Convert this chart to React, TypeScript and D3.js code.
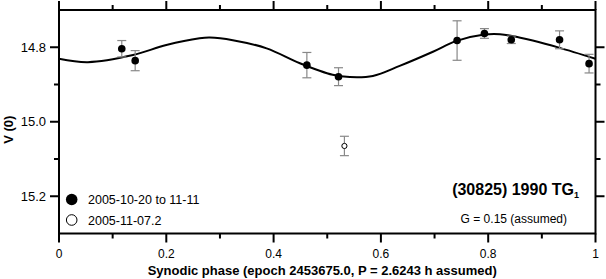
import React, { useEffect, useRef } from 'react';
import * as d3 from 'd3';

// main session points: phase, reduced mag, error
const phases = [0.117, 0.142, 0.462, 0.521, 0.742, 0.793, 0.843, 0.933, 0.988];
const mags = [14.804, 14.836, 14.848, 14.879, 14.782, 14.763, 14.780, 14.780, 14.844];
const errs = [0.022, 0.027, 0.034, 0.024, 0.053, 0.013, 0.010, 0.024, 0.025];

// second session (open symbol)
const phases2 = [0.532];
const mags2 = [15.065];
const errs2 = [0.026];

// fitted curve
const curvePhase = [0, 0.054, 0.138, 0.2, 0.262, 0.281, 0.324, 0.387, 0.449, 0.51, 0.542, 0.585, 0.635, 0.697, 0.741, 0.793, 0.822, 0.842, 0.883, 0.932, 1.0];
const curveMag = [14.831, 14.840, 14.821, 14.794, 14.776, 14.774, 14.781, 14.803, 14.843, 14.874, 14.880, 14.877, 14.850, 14.812, 14.783, 14.766, 14.765, 14.769, 14.782, 14.801, 14.831];

const xMajor = [0, 0.2, 0.4, 0.6, 0.8, 1];
const xLabels = ['0', '0.2', '0.4', '0.6', '0.8', '1'];
const yMajor = [14.8, 15.0, 15.2];
const yLabels = ['14.8', '15.0', '15.2'];

const legendLabels = ['2005-10-20 to 11-11', '2005-11-07.2'];

export default function App() {
  const ref = useRef<SVGSVGElement>(null);

  useEffect(() => {
    const W = 606, H = 279;
    const left = 59, right = 595.5, top = 10, bottom = 233.5;
    const font = 'Liberation Sans, Arial, Helvetica, sans-serif';

    const svg = d3.select(ref.current);
    svg.selectAll('*').remove();
    svg.attr('width', W).attr('height', H);

    const x = d3.scaleLinear().domain([0, 1]).range([left, right]);
    const y = d3.scaleLinear().domain([14.7, 15.3]).range([top, bottom]);

    const xMinor = d3.range(0.1, 1, 0.2);
    const yMinor = [14.9, 15.1];

    // frame
    svg.append('rect')
      .attr('x', left).attr('y', top)
      .attr('width', right - left).attr('height', bottom - top)
      .attr('fill', 'none').attr('stroke', '#000').attr('stroke-width', 2);

    const bigT = 9, smallT = 5;
    const g = svg.append('g').attr('stroke', '#000').attr('stroke-width', 2);
    xMajor.forEach(v => {
      g.append('line').attr('x1', x(v)).attr('x2', x(v)).attr('y1', bottom).attr('y2', bottom + bigT);
      g.append('line').attr('x1', x(v)).attr('x2', x(v)).attr('y1', top).attr('y2', top - bigT);
    });
    xMinor.forEach(v => {
      g.append('line').attr('x1', x(v)).attr('x2', x(v)).attr('y1', bottom).attr('y2', bottom + smallT);
      g.append('line').attr('x1', x(v)).attr('x2', x(v)).attr('y1', top).attr('y2', top - smallT);
    });
    yMajor.forEach(v => {
      g.append('line').attr('x1', left).attr('x2', left - bigT).attr('y1', y(v)).attr('y2', y(v));
      g.append('line').attr('x1', right).attr('x2', right + bigT).attr('y1', y(v)).attr('y2', y(v));
    });
    yMinor.forEach(v => {
      g.append('line').attr('x1', left).attr('x2', left - smallT).attr('y1', y(v)).attr('y2', y(v));
      g.append('line').attr('x1', right).attr('x2', right + smallT).attr('y1', y(v)).attr('y2', y(v));
    });

    // tick labels
    svg.selectAll('.xl').data(xMajor).enter().append('text')
      .attr('x', d => x(d)).attr('y', 258)
      .attr('text-anchor', 'middle').attr('font-family', font).attr('font-size', 12)
      .text((d, i) => xLabels[i]);
    svg.selectAll('.yl').data(yMajor).enter().append('text')
      .attr('x', 46).attr('y', d => y(d) + 4.5)
      .attr('text-anchor', 'end').attr('font-family', font).attr('font-size', 13)
      .text((d, i) => yLabels[i]);

    // axis titles
    svg.append('text')
      .attr('x', (left + right) / 2 - 5).attr('y', 275)
      .attr('text-anchor', 'middle').attr('font-family', font).attr('font-size', 13).attr('font-weight', 700)
      .text('Synodic phase (epoch 2453675.0, P = 2.6243 h assumed)');
    svg.append('text')
      .attr('transform', `translate(13, ${(top + bottom) / 2 + 8}) rotate(-90)`)
      .attr('text-anchor', 'middle').attr('font-family', font).attr('font-size', 13).attr('font-weight', 700)
      .text('V (0)');

    // curve
    const line = d3.line<number>()
      .x((d, i) => x(curvePhase[i]))
      .y(d => y(d))
      .curve(d3.curveCatmullRom.alpha(0.5));
    svg.append('path').datum(curveMag)
      .attr('d', line).attr('fill', 'none').attr('stroke', '#000').attr('stroke-width', 2);

    // error bars
    const drawErr = (ph: number[], mg: number[], er: number[]) => {
      const eg = svg.append('g').attr('stroke', '#888').attr('stroke-width', 1.2);
      ph.forEach((p, i) => {
        eg.append('line').attr('x1', x(p)).attr('x2', x(p)).attr('y1', y(mg[i] - er[i])).attr('y2', y(mg[i] + er[i]));
        [mg[i] - er[i], mg[i] + er[i]].forEach(m => {
          eg.append('line').attr('x1', x(p) - 4.5).attr('x2', x(p) + 4.5).attr('y1', y(m)).attr('y2', y(m));
        });
      });
    };
    drawErr(phases, mags, errs);
    drawErr(phases2, mags2, errs2);

    svg.selectAll('.pt').data(phases).enter().append('circle')
      .attr('cx', d => x(d)).attr('cy', (d, i) => y(mags[i])).attr('r', 3.8).attr('fill', '#000');
    svg.selectAll('.pt2').data(phases2).enter().append('circle')
      .attr('cx', d => x(d)).attr('cy', (d, i) => y(mags2[i])).attr('r', 2.6)
      .attr('fill', '#fff').attr('stroke', '#000').attr('stroke-width', 1);

    // legend
    svg.append('circle').attr('cx', 71.7).attr('cy', 199.5).attr('r', 5.8).attr('fill', '#000');
    svg.append('circle').attr('cx', 71.7).attr('cy', 220).attr('r', 5.3).attr('fill', '#fff').attr('stroke', '#000').attr('stroke-width', 1);
    legendLabels.forEach((t, i) => {
      svg.append('text').attr('x', 88).attr('y', 204 + i * 20.5)
        .attr('font-family', font).attr('font-size', 12.5).text(t);
    });

    // object label
    const lab = svg.append('text').attr('x', 579).attr('y', 195).attr('text-anchor', 'end')
      .attr('font-family', font).attr('font-size', 16).attr('font-weight', 700);
    lab.append('tspan').text('(30825) 1990 TG');
    lab.append('tspan').attr('font-size', 9).attr('dy', 3).text('1');
    svg.append('text').attr('x', 567).attr('y', 223).attr('text-anchor', 'end')
      .attr('font-family', font).attr('font-size', 12).text('G = 0.15 (assumed)');
  }, []);

  return <svg ref={ref} style={{ position: 'absolute', left: 0, top: 0 }} />;
}
